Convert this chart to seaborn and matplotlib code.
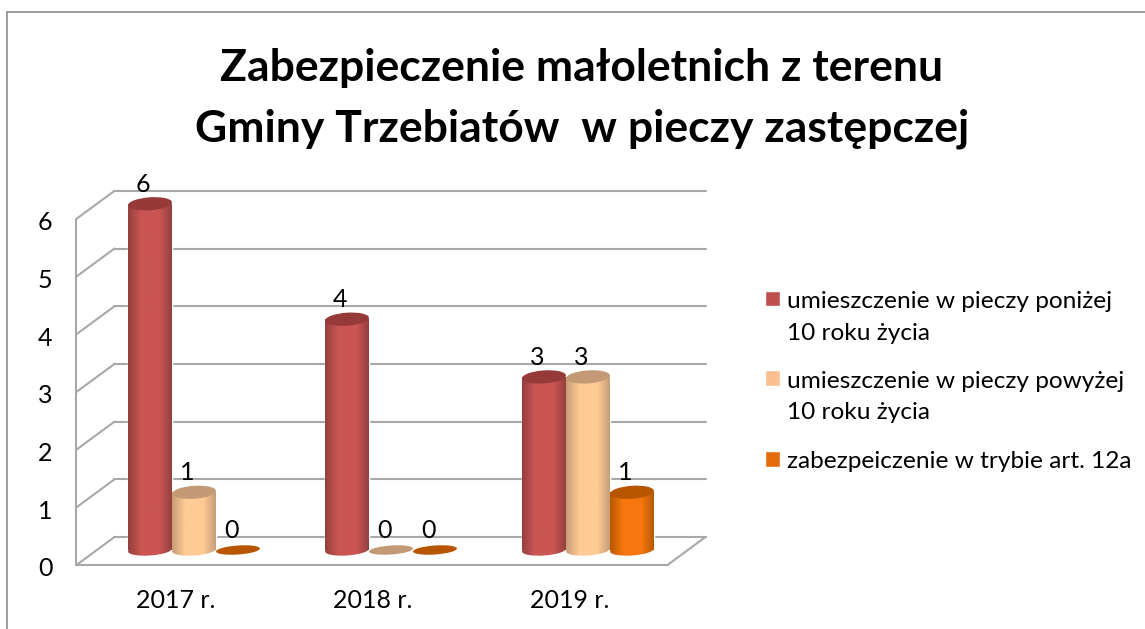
import matplotlib
matplotlib.use("Agg")
import matplotlib.pyplot as plt
import numpy as np
import pandas as pd
import seaborn as sns
from matplotlib.colors import LinearSegmentedColormap
from matplotlib.lines import Line2D
from matplotlib.patches import Ellipse, Rectangle
from matplotlib.transforms import Affine2D, IdentityTransform

# Data
years = ["2017 r.", "2018 r.", "2019 r."]
below_10 = [6, 4, 3]
above_10 = [1, 0, 3]
art_12a = [0, 0, 1]
series_names = [
    "umieszczenie w pieczy poniżej\n10 roku życia",
    "umieszczenie w pieczy powyżej\n10 roku życia",
    "zabezpeiczenie w trybie art. 12a",
]
title = "Zabezpieczenie małoletnich z terenu\nGminy Trzebiatów  w pieczy zastępczej"

# Colours: legend/base, cylinder edge, cylinder top
base_colors = ["#C0504D", "#FAC090", "#E46C0A"]
mid_colors = ["#CB5553", "#FFCA94", "#F8760E"]
edge_colors = ["#96403E", "#C89E78", "#B85A00"]
top_colors = ["#963A39", "#C49A76", "#B85600"]
grid_color = "#A8A8A8"
frame_color = "#8C8C8C"

W, H = 1145, 629

sns.set_theme(style="white")
plt.rcParams["font.family"] = ["Lato", "DejaVu Sans"]

df = pd.DataFrame({
    "year": years * 3,
    "count": below_10 + above_10 + art_12a,
    "series": [n for n in series_names for _ in years],
})

fig = plt.figure(figsize=(W / 100, H / 100), dpi=100, facecolor="white")

# axes placed so category and value scales land on the picture's plot area
unit = 57.7
zero_y = 550
ax = fig.add_axes([
    95.5 / W,
    (H - (zero_y + 0.5 * unit)) / H,
    591 / W,
    7 * unit / H,
])
ax.patch.set_alpha(0)

sns.barplot(data=df, x="year", y="count", hue="series", hue_order=series_names,
            palette=base_colors, width=0.67, gap=0, saturation=1, ax=ax, zorder=3)
ax.set_xlim(-0.5, 2.5)
ax.set_ylim(-0.5, 6.5)
ax.set_xlabel("")
ax.set_ylabel("")
sns.despine(ax=ax, left=True, bottom=True)


def to_px(x, y, dx=0, dy=0):
    px = ax.transData.transform((x, y))
    return px[0] + dx, px[1] + dy


# 3D walls: front plane and back plane offsets in pixels
front = (-19, -15)
back = (19, 13)
ident = IdentityTransform()


def wall_line(p0, p1):
    ax.add_line(Line2D([p0[0], p1[0]], [p0[1], p1[1]], color=grid_color, lw=1.5,
                       transform=ident, clip_on=False, zorder=1))


for v in range(0, 7):
    wall_line(to_px(-0.5, v, *front), to_px(-0.5, v, *back))
    wall_line(to_px(-0.5, v, *back), to_px(2.5, v, *back))
wall_line(to_px(-0.5, 0, *front), to_px(-0.5, 6, *front))
wall_line(to_px(-0.5, 0, *front), to_px(2.5, 0, *front))
wall_line(to_px(2.5, 0, *front), to_px(2.5, 0, *back))

# Cylinders on top of the seaborn bars
zo = 4
for c, container in enumerate(ax.containers):
    cmap = LinearSegmentedColormap.from_list(
        "cyl", [(0, edge_colors[c]), (0.3, mid_colors[c]), (0.72, mid_colors[c]), (1, edge_colors[c])])
    shade = np.linspace(0, 1, 64).reshape(1, -1)
    for bar in container:
        x0, w, h = bar.get_x(), bar.get_width(), bar.get_height()
        cx = x0 + w / 2
        w_px = to_px(x0 + w, 0)[0] - to_px(x0, 0)[0]
        if h > 0:
            low = Ellipse(to_px(cx, 0), w_px, 11, angle=4, transform=ident)
            body = Rectangle((x0, 0), w, h, transform=ax.transData)
            for clip in (low, body):
                im = ax.imshow(shade, cmap=cmap, aspect="auto", zorder=zo,
                               extent=(x0, x0 + w, -0.3, h + 0.2))
                im.set_clip_path(clip)
        ax.add_patch(Ellipse(to_px(cx, h), w_px, 13 if h > 0 else 9, angle=4,
                             facecolor=top_colors[c], edgecolor="none",
                             transform=ident, zorder=zo + 0.5))
        ax.annotate(f"{h:.0f}", xy=(cx, h), xytext=(-5, 14), textcoords="offset points",
                    ha="center", va="center", fontsize=18, color="black", zorder=20)
        zo += 1
ax.set_xlim(-0.5, 2.5)
ax.set_ylim(-0.5, 6.5)

# Tick labels sit on the front plane
ax.set_yticks(range(0, 7))
ax.tick_params(axis="both", length=0, labelsize=18, labelcolor="black", pad=0)
ax.xaxis.set_tick_params(pad=7)
for lab in ax.get_yticklabels():
    lab.set_transform(lab.get_transform() + Affine2D().translate(-43, -17))
for lab in ax.get_xticklabels():
    lab.set_transform(lab.get_transform() + Affine2D().translate(-18, 0))

sns.move_legend(ax, "upper left", bbox_to_anchor=(765 / W, (H - 291) / H),
                bbox_transform=fig.transFigure, title=None, frameon=False,
                fontsize=17.6, labelspacing=1.12, handlelength=0.61, handleheight=0.61,
                handletextpad=0.29, borderpad=0, borderaxespad=0, labelcolor="black")
leg = ax.get_legend()
for text in leg.get_texts():
    text.set_linespacing(1.62)
# square markers line up with the first line of the two-line labels
for patch in leg.get_patches()[:2]:
    patch.set_y(patch.get_y() + 13.5)

fig.suptitle(title, x=582 / W, y=(H - 98.5) / H, va="center", ha="center",
             fontsize=32, fontweight="bold", color="black", linespacing=1.61)

# Chart border
fig.add_artist(Line2D([7 / W, 7 / W], [0, (H - 12) / H], color=frame_color, lw=1.2))
fig.add_artist(Line2D([7 / W, 1], [(H - 12) / H, (H - 12) / H], color=frame_color, lw=1.2))

fig.savefig("out.png", dpi=100)
